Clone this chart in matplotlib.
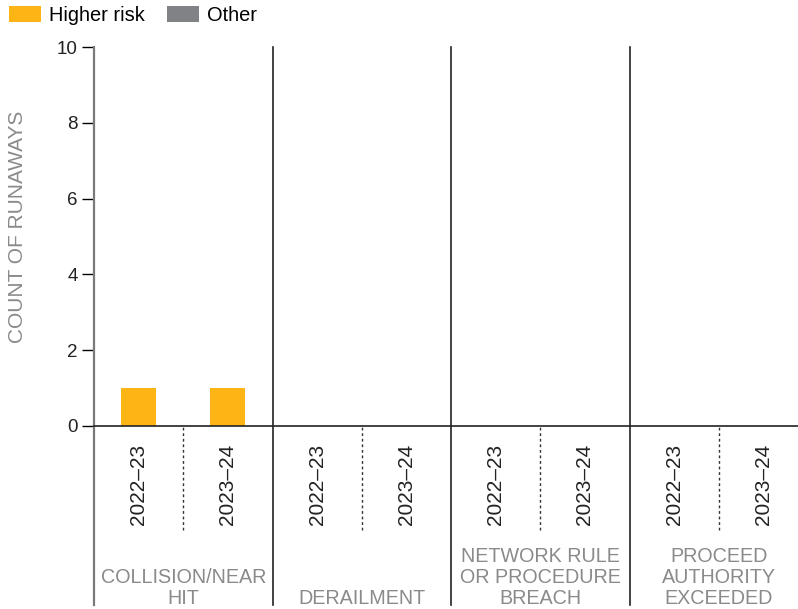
import matplotlib
matplotlib.use("Agg")
import matplotlib.pyplot as plt
from matplotlib.patches import Patch

plt.rcParams['font.family'] = ['Liberation Sans', 'DejaVu Sans']

categories = ["COLLISION/NEAR\nHIT", "DERAILMENT", "NETWORK RULE\nOR PROCEDURE\nBREACH",
              "PROCEED\nAUTHORITY\nEXCEEDED"]
years = ["2022\u201323", "2023\u201324"]
higher_risk = [[1, 1], [0, 0], [0, 0], [0, 0]]
other = [[0, 0], [0, 0], [0, 0], [0, 0]]
yticks = [0, 2, 4, 6, 8, 10]

ORANGE = "#FDB515"
GREY = "#808285"
LABEL_GREY = "#8a8a8a"

W, H = 798, 609
fig = plt.figure(figsize=(W / 100, H / 100), dpi=100)
left, right, top, zero = 94, 808, 47, 426
ax = fig.add_axes([left / W, (H - zero) / H, (right - left) / W, (zero - top) / H])

nslots = len(categories) * len(years)
ax.set_xlim(-0.5, nslots - 0.5)
ax.set_ylim(0, 10)
bw = 0.39
for gi, cat in enumerate(categories):
    for yi, yr in enumerate(years):
        x = gi * len(years) + yi
        hr = higher_risk[gi][yi]
        ot = other[gi][yi]
        ax.bar(x, hr, width=bw, color=ORANGE, zorder=2)
        ax.bar(x, ot, width=bw, bottom=hr, color=GREY, zorder=2)

for s in ['top', 'right', 'bottom', 'left']:
    ax.spines[s].set_visible(False)

ax.set_xticks([])
ax.set_yticks(yticks)
ax.tick_params(axis='y', length=8.6, width=1, color='black', labelsize=13.5, pad=3)
for t in ax.get_yticklabels():
    t.set_color('#222222')

trans = ax.get_xaxis_transform()
ybottom = -(605 - zero) / (zero - top)
ydot = -(530 - zero) / (zero - top)
ylab = -(444 - zero) / (zero - top)
ycat = -(608 - zero) / (zero - top)

# left spine (grey)
ax.plot([-0.5, -0.5], [ybottom, 1], transform=trans, color='#7a7a7a', lw=1.6, clip_on=False, zorder=3)
# group dividers
for gi in range(1, len(categories)):
    xb = gi * len(years) - 0.5
    ax.plot([xb, xb], [ybottom, 1], transform=trans, color='#222222', lw=1.2, clip_on=False, zorder=3)
# zero line
ax.axhline(0, color='#222222', lw=1.2, zorder=3, clip_on=False)

for gi, cat in enumerate(categories):
    xm = gi * len(years) + 0.5
    ax.plot([xm, xm], [ydot, 0], transform=trans, color='#333333', lw=1, ls=(0, (2, 2)), clip_on=False)
    for yi, yr in enumerate(years):
        x = gi * len(years) + yi
        ax.text(x, ylab, yr, transform=trans, rotation=90, ha='center', va='top',
                fontsize=15, color='#222222')
    ax.text(xm, ycat, cat, transform=trans, ha='center', va='bottom', fontsize=14.2,
            color=LABEL_GREY, linespacing=1.12)

fig.text(18 / W, 1 - 227 / H, "COUNT OF RUNAWAYS", rotation=90, ha='center', va='center',
         fontsize=15, color=LABEL_GREY)

handles = [Patch(facecolor=ORANGE, label="Higher risk"), Patch(facecolor=GREY, label="Other")]
fig.legend(handles=handles, loc='upper left', bbox_to_anchor=(9 / W, 1 - 6 / H), ncol=2,
           frameon=False, fontsize=14.4, handlelength=1.6, handleheight=0.8,
           handletextpad=0.4, columnspacing=1.1, borderaxespad=0, borderpad=0)

fig.savefig("out.png", dpi=100)
